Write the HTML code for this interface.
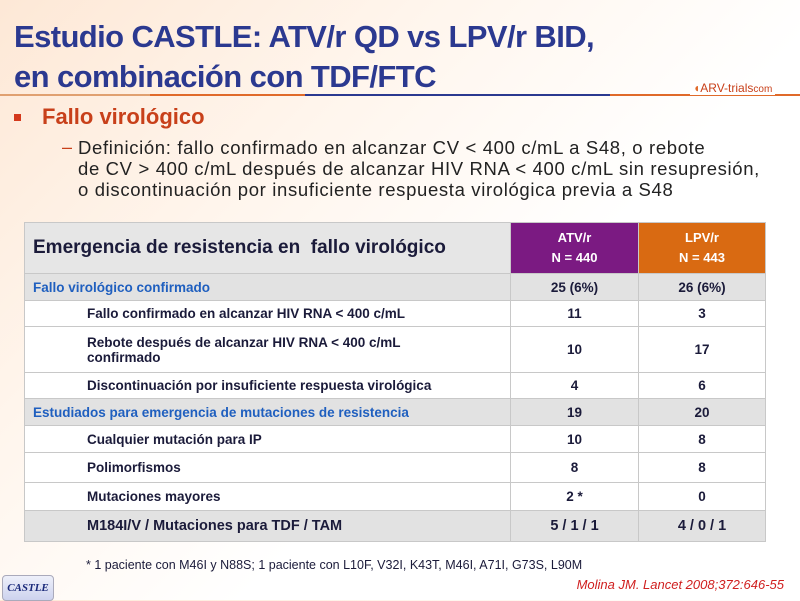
<!DOCTYPE html>
<html><head><meta charset="utf-8"><style>
body{margin:0;width:800px;height:600px;overflow:hidden;position:relative;font-family:"Liberation Sans",sans-serif;
background:linear-gradient(135deg,#fde8d6 0%,#fff5ec 30%,#ffffff 60%);}
.t{position:absolute;left:14px;top:17px;font-size:31px;font-weight:bold;color:#2b3990;line-height:40px;letter-spacing:-0.6px}
.ln{position:absolute;top:94px;height:2px;}
.b{position:absolute;left:14px;top:114px;width:7px;height:7px;background:#d4391c}
.h{position:absolute;left:42px;top:104px;font-size:22px;font-weight:bold;color:#c8401a}
.d{position:absolute;left:78px;top:137px;font-size:18.5px;color:#222;line-height:21px;letter-spacing:0.65px}
table{position:absolute;left:24px;top:222px;width:742px;border-collapse:collapse;font-size:13.5px;font-weight:bold;color:#1b1b3a}
td{border:1px solid #c8c8c8;padding:0 8px;background:#fff}
td.n{text-align:center;width:110px}
tr.g td{background:#e2e2e2}
.bl{color:#1f5fbf}
.i{padding-left:62px}
</style></head><body>
<div class="t">Estudio CASTLE: ATV/r QD vs LPV/r BID,<br>en combinación con TDF/FTC</div>
<div class="ln" style="left:0;width:150px;background:#e0a070"></div>
<div class="ln" style="left:150px;width:155px;background:#e06a2a"></div>
<div class="ln" style="left:305px;width:305px;background:#2b3990"></div>
<div class="ln" style="left:610px;width:190px;background:#e06a2a"></div>
<div style="position:absolute;left:690px;top:81px;font-size:12px;color:#c8401a;background:#fff;padding:0 3px"><span style="color:#e06a2a">◖</span>ARV-trials<span style="font-size:10px">com</span></div>
<div class="b"></div>
<div class="h">Fallo virológico</div>
<div style="position:absolute;left:62px;top:137px;font-size:18px;color:#c8401a">–</div>
<div class="d">Definición: fallo confirmado en alcanzar CV &lt; 400 c/mL a S48, o rebote<br>de CV &gt; 400 c/mL después de alcanzar HIV RNA &lt; 400 c/mL sin resupresión,<br>o discontinuación por insuficiente respuesta virológica previa a S48</div>
<table>
<tr style="height:51px"><td style="background:#e6e6e6;font-size:19px;color:#1b1b3a">Emergencia de resistencia en &nbsp;fallo virológico</td>
<td class="n" style="background:#7b1a82;color:#fff;font-size:13px;line-height:20px;width:111px">ATV/r<br>N = 440</td>
<td class="n" style="background:#d96a12;color:#fff;font-size:13px;line-height:20px">LPV/r<br>N = 443</td></tr>
<tr class="g" style="height:27px"><td class="bl">Fallo virológico confirmado</td><td class="n">25 (6%)</td><td class="n">26 (6%)</td></tr>
<tr style="height:26px"><td class="i">Fallo confirmado en alcanzar HIV RNA &lt; 400 c/mL</td><td class="n">11</td><td class="n">3</td></tr>
<tr style="height:46px"><td class="i">Rebote después de alcanzar HIV RNA &lt; 400 c/mL<br>confirmado</td><td class="n">10</td><td class="n">17</td></tr>
<tr style="height:26px"><td class="i">Discontinuación por insuficiente respuesta virológica</td><td class="n">4</td><td class="n">6</td></tr>
<tr class="g" style="height:27px"><td class="bl">Estudiados para emergencia de mutaciones de resistencia</td><td class="n">19</td><td class="n">20</td></tr>
<tr style="height:27px"><td class="i">Cualquier mutación para IP</td><td class="n">10</td><td class="n">8</td></tr>
<tr style="height:30px"><td class="i">Polimorfismos</td><td class="n">8</td><td class="n">8</td></tr>
<tr style="height:28px"><td class="i">Mutaciones mayores</td><td class="n">2 *</td><td class="n">0</td></tr>
<tr class="g" style="height:31px"><td class="i" style="font-size:14.5px">M184I/V / Mutaciones para TDF / TAM</td><td class="n" style="font-size:14.5px">5 / 1 / 1</td><td class="n" style="font-size:14.5px">4 / 0 / 1</td></tr>
</table>
<div style="position:absolute;left:86px;top:558px;font-size:12.5px;color:#1b1b3a">* 1 paciente con M46I y N88S; 1 paciente con L10F, V32I, K43T, M46I, A71I, G73S, L90M</div>
<div style="position:absolute;right:16px;top:577px;font-size:13px;font-style:italic;color:#d02020">Molina JM. Lancet 2008;372:646-55</div>
<div style="position:absolute;left:2px;top:575px;width:50px;height:24px;border-radius:4px;background:linear-gradient(#eef0fa,#cdd2ee);border:1px solid #aab;font-family:'Liberation Serif',serif;font-style:italic;font-weight:bold;font-size:11px;color:#1b2a7a;text-align:center;line-height:24px">CASTLE</div>
</body></html>
